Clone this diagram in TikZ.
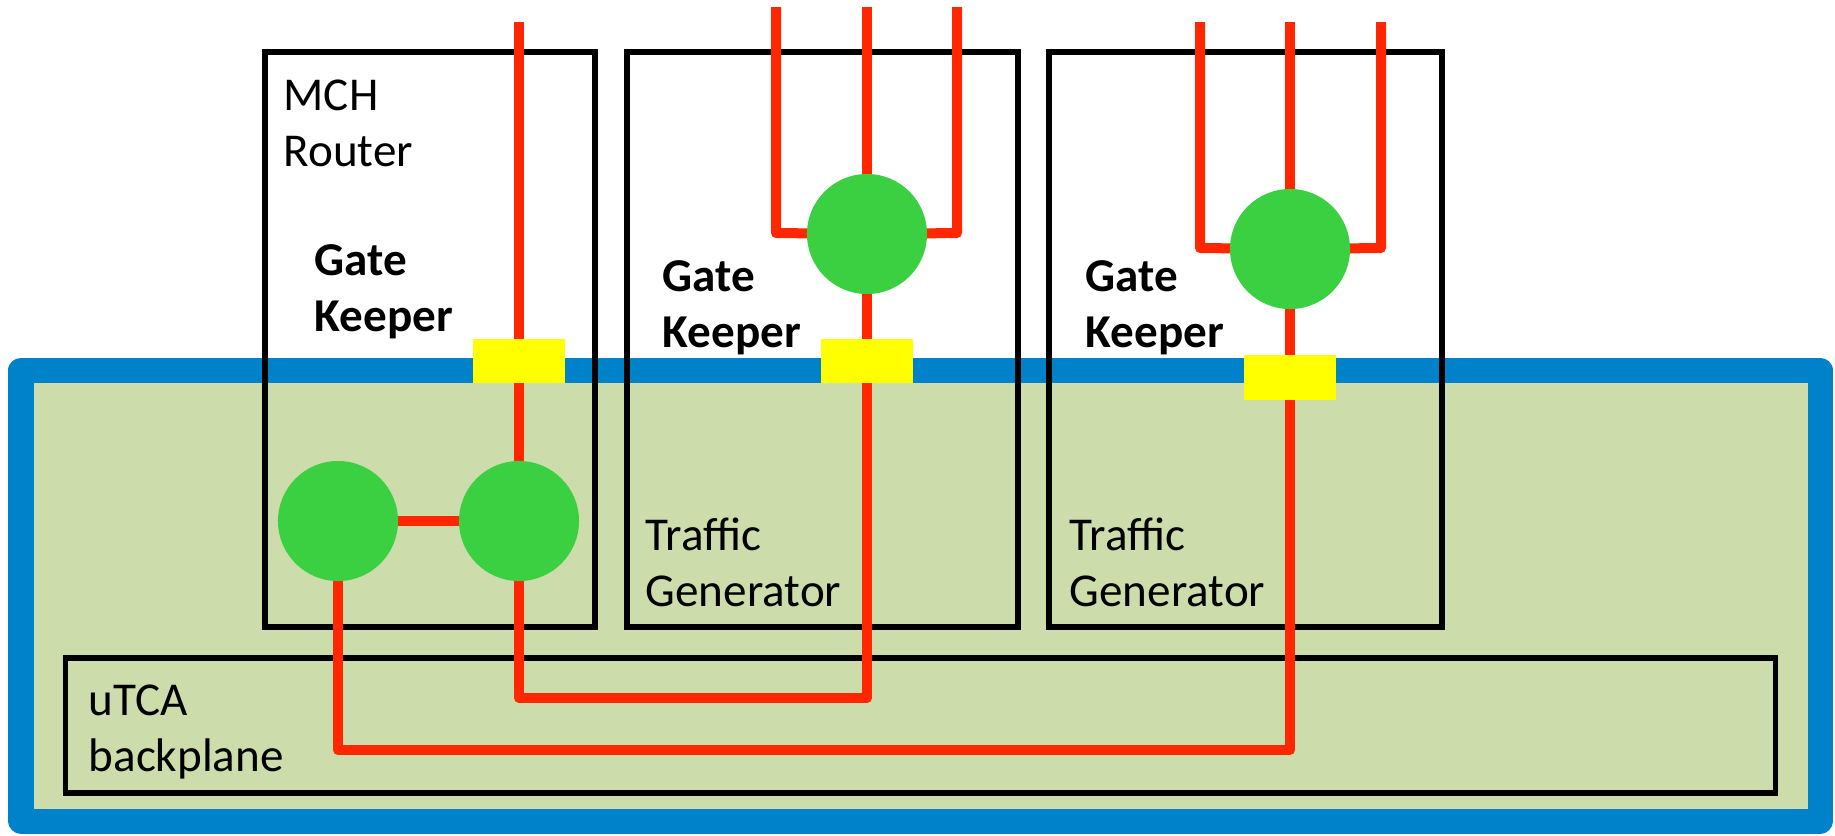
\documentclass[tikz,border=0pt]{standalone}
\usepackage{fontspec}
\setmainfont{Carlito}
\pgfdeclarelayer{frame}
\pgfdeclarelayer{boxes}
\pgfdeclarelayer{wires}
\pgfsetlayers{frame,boxes,wires,main}
\definecolor{wirered}{RGB}{255,38,0}
\definecolor{swgreen}{RGB}{58,208,66}
\definecolor{gkyellow}{RGB}{255,255,0}
\definecolor{frameblue}{RGB}{0,130,202}
\definecolor{panelgreen}{RGB}{205,220,171}
\tikzset{
  board/.style={draw=black, line width=0.55mm, rectangle, inner sep=0pt, outer sep=0pt},
  switchnode/.style={circle, fill=swgreen, minimum size=1.2cm, inner sep=0pt, outer sep=0pt},
  gatebox/.style={rectangle, fill=gkyellow, minimum width=0.91cm, minimum height=0.44cm, inner sep=0pt, outer sep=0pt},
  wire/.style={draw=wirered, line width=1mm, line join=round, line cap=butt},
  txt/.style={font=\fontsize{13.4pt}{15.9pt}\selectfont, align=left, anchor=base west, inner sep=0pt},
  boldtxt/.style={txt, font=\fontsize{13.4pt}{15.9pt}\selectfont\bfseries},
}
\begin{document}
\begin{tikzpicture}[x=0.01cm, y=-0.01cm]
\useasboundingbox (0,0) rectangle (1835,835);

% chassis frame
\begin{pgfonlayer}{frame}
  \draw[fill=panelgreen, draw=frameblue, line width=2.5mm, line join=round] (21,370) rectangle (1820,821);
\end{pgfonlayer}

% boards
\begin{pgfonlayer}{boxes}
  \node[board, minimum width=3.30cm, minimum height=5.75cm] (mch) at (430,339.5) {};
  \node[board, minimum width=3.91cm, minimum height=5.75cm] (tg1) at (822.5,339.5) {};
  \node[board, minimum width=3.93cm, minimum height=5.75cm] (tg2) at (1245.5,339.5) {};
  \node[board, minimum width=17.09cm, minimum height=1.35cm] (bp) at (920.5,725.5) {};
\end{pgfonlayer}

% switches
\node[switchnode] (cm1) at (338,521) {};
\node[switchnode] (cm2) at (519,521) {};
\node[switchnode] (ct1) at (867,234) {};
\node[switchnode] (ct2) at (1290,249) {};

% gate keepers (connectors)
\node[gatebox] (gk1) at (519,361) {};
\node[gatebox] (gk2) at (867,361) {};
\node[gatebox, minimum height=0.45cm] (gk3) at (1290,377.5) {};

% wire end points and bends
\coordinate (mtop) at (519,22);
\coordinate (t1top) at (867,7);
\coordinate (t1l) at (776,7);
\coordinate (t1lb) at (776,233);
\coordinate (t1r) at (957,7);
\coordinate (t1rb) at (957,233);
\coordinate (t2top) at (1290,22);
\coordinate (t2l) at (1200,22);
\coordinate (t2lb) at (1200,248);
\coordinate (t2r) at (1381,22);
\coordinate (t2rb) at (1381,248);
\coordinate (b1a) at (519,698);
\coordinate (b1b) at (867,698);
\coordinate (b2a) at (338,750);
\coordinate (b2b) at (1290,750);

\begin{pgfonlayer}{wires}
  \draw[wire] (mtop) -- (gk1.center) -- (cm2.center) -- (b1a) -- (b1b) -- (gk2.center) -- (ct1.center) -- (t1top);
  \draw[wire] (cm1.center) -- (cm2.center);
  \draw[wire] (cm1.center) -- (b2a) -- (b2b) -- (gk3.center) -- (ct2.center) -- (t2top);
  \draw[wire] (t1l) -- (t1lb) -- (ct1.center) -- (t1rb) -- (t1r);
  \draw[wire] (t2l) -- (t2lb) -- (ct2.center) -- (t2rb) -- (t2r);
\end{pgfonlayer}

% labels (anchored at the baseline of the last line)
\node[txt] (lmch) at (283,166) {MCH\\Router};
\node[boldtxt] (lgk1) at (314,331) {Gate\\Keeper};
\node[boldtxt] (lgk2) at (662,347) {Gate\\Keeper};
\node[boldtxt] (lgk3) at (1085,347) {Gate\\Keeper};
\node[txt] (ltg1) at (645,606) {Traffic\\Generator};
\node[txt] (ltg2) at (1069,606) {Traffic\\Generator};
\node[txt] (lbp) at (88,771) {uTCA\\backplane};
\end{tikzpicture}
\end{document}
